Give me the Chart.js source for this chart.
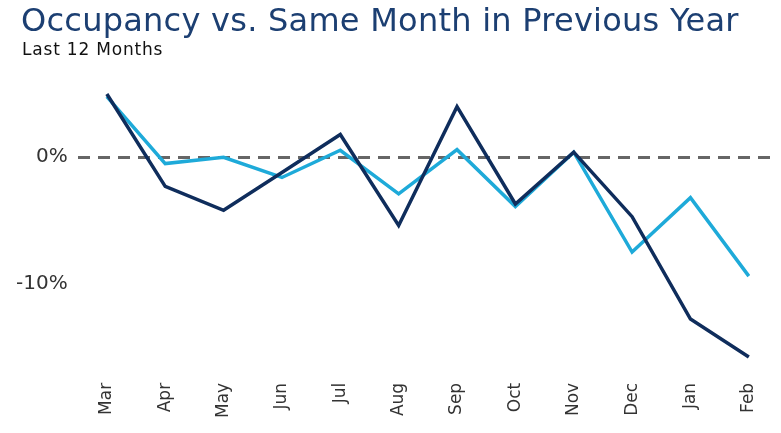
<!DOCTYPE html>
<html>
<head>
<meta charset="utf-8">
<script src="https://cdn.jsdelivr.net/npm/chart.js@4/dist/chart.umd.min.js"></script>
<style>
  html, body { margin: 0; padding: 0; background: #fff; }
  #wrap { position: relative; width: 781px; height: 433px; }
  #title { position: absolute; left: 21px; top: 1px; font: 32px 'DejaVu Sans', sans-serif;
           color: #1c3f72; letter-spacing: 0.25px; white-space: nowrap; }
  #sub { position: absolute; left: 22px; top: 39px; font: 17px 'DejaVu Sans', sans-serif;
         color: #111; letter-spacing: 0.8px; white-space: nowrap; }
  #occChart { position: absolute; left: 0; top: 0; }
</style>
</head>
<body>
<div id="wrap">
  <canvas id="occChart" width="781" height="433"></canvas>
  <div id="title">Occupancy vs. Same Month in Previous Year</div>
  <div id="sub">Last 12 Months</div>
</div>
<script>
// months shown on the x axis
const months = ['Mar', 'Apr', 'May', 'Jun', 'Jul', 'Aug', 'Sep', 'Oct', 'Nov', 'Dec', 'Jan', 'Feb'];
// % change vs same month previous year
const darkSeries = [5.0, -2.3, -4.2, -1.2, 1.8, -5.4, 4.0, -3.7, 0.4, -4.7, -12.8, -15.8];
const lightSeries = [4.8, -0.5, 0.0, -1.6, 0.55, -2.9, 0.6, -3.9, 0.4, -7.5, -3.2, -9.4];
const yTicks = [-10, 0];

const ctx = document.getElementById('occChart');

new Chart(ctx, {
  type: 'line',
  data: {
    labels: months,
    datasets: [
      {
        label: 'Property',
        data: darkSeries,
        borderColor: '#0f2d5c',
        borderWidth: 3.5,
        pointRadius: 0,
        tension: 0,
        fill: false
      },
      {
        label: 'Comp Set',
        data: lightSeries,
        borderColor: '#1eaad9',
        borderWidth: 3.5,
        pointRadius: 0,
        tension: 0,
        fill: false
      }
    ]
  },
  options: {
    responsive: false,
    animation: false,
    layout: { padding: { left: 6, right: 3, top: 70, bottom: 6 } },
    plugins: {
      legend: { display: false },
      tooltip: { enabled: false }
    },
    scales: {
      x: {
        offset: true,
        grid: { display: false },
        border: { display: false },
        ticks: {
          color: '#333',
          font: { family: 'DejaVu Sans', size: 17 },
          maxRotation: 90,
          minRotation: 90,
          padding: 9
        }
      },
      y: {
        min: -16.5,
        max: 6.9,
        afterBuildTicks: (axis) => { axis.ticks = yTicks.map(v => ({ value: v })); },
        border: { display: false, dash: [12, 8] },
        grid: {
          drawTicks: false,
          lineWidth: 3,
          color: (c) => (c.tick && c.tick.value === 0 ? '#666' : 'rgba(0,0,0,0)')
        },
        ticks: {
          color: '#333',
          font: { family: 'DejaVu Sans', size: 20 },
          padding: 10,
          callback: (v) => v + '%'
        }
      }
    }
  }
});
</script>
</body>
</html>
